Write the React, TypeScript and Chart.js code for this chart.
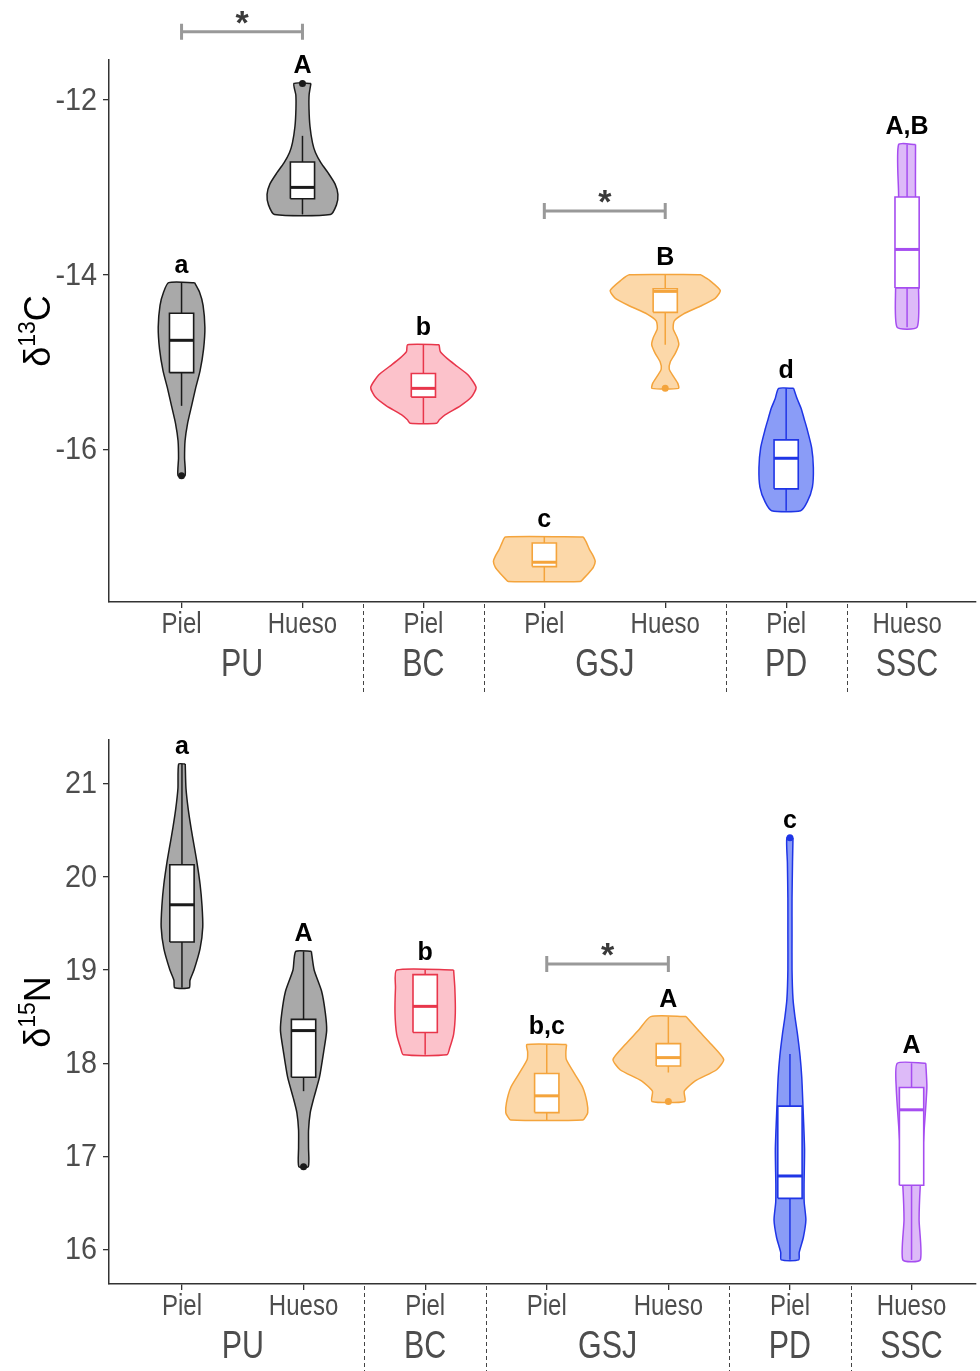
import React, { useEffect, useRef } from "react";
import { Chart, registerables } from "chart.js";

Chart.register(...registerables);

// ---------- categories ----------
const positions = [1, 2, 3, 4, 5, 6, 7];
const tissueLabels = ["Piel", "Hueso", "Piel", "Piel", "Hueso", "Piel", "Hueso"];
const siteLabels = ["PU", "BC", "GSJ", "PD", "SSC"];
const siteFirstPos = [1, 3, 4, 6, 7];
const siteLastPos = [2, 3, 5, 6, 7];

const outlineColors = ["#1a1a1a", "#1a1a1a", "#E8364B", "#F4A43C", "#F4A43C", "#1F35E6", "#A64DF0"];
const fillColors = ["#A9A9A9", "#A9A9A9", "#FCC2CB", "#FCD8A9", "#FCD8A9", "#8A9CF7", "#DDBAF8"];

// ---------- δ13C ----------
const carbonTicks = [-12, -14, -16];
const carbonRange = [-17.745, -11.542];
const carbonLetters = ["a", "A", "b", "c", "B", "d", "A,B"];
// violin outline: values and half widths (category units)
const carbonViolinValues = [
  [-14.09, -14.2, -14.35, -14.6, -14.85, -15.1, -15.3, -15.5, -15.7, -15.9, -16.1, -16.3],
  [-11.81, -11.94, -12.1, -12.3, -12.49, -12.6, -12.72, -12.84, -12.96, -13.08, -13.2, -13.31],
  [-14.8, -14.88, -14.96, -15.05, -15.15, -15.29, -15.4, -15.5, -15.6, -15.66, -15.7],
  [-17.0, -17.06, -17.14, -17.22, -17.28, -17.35, -17.42, -17.48, -17.51],
  [-14.0, -14.06, -14.18, -14.27, -14.36, -14.45, -14.53, -14.62, -14.72, -14.8, -14.9, -15.0, -15.08, -15.16, -15.24, -15.3],
  [-15.3, -15.42, -15.53, -15.65, -15.76, -15.98, -16.21, -16.43, -16.6, -16.7],
  [-12.51, -13.11, -13.6, -14.15, -14.6],
];
const carbonViolinWidths = [
  [0.107, 0.149, 0.178, 0.193, 0.182, 0.153, 0.116, 0.083, 0.05, 0.029, 0.025, 0.029],
  [0.07, 0.055, 0.054, 0.062, 0.083, 0.107, 0.153, 0.215, 0.269, 0.293, 0.281, 0.231],
  [0.13, 0.14, 0.198, 0.281, 0.372, 0.436, 0.397, 0.306, 0.182, 0.132, 0.11],
  [0.322, 0.347, 0.372, 0.405, 0.421, 0.405, 0.364, 0.322, 0.298],
  [0.296, 0.364, 0.455, 0.413, 0.289, 0.149, 0.074, 0.066, 0.099, 0.112, 0.083, 0.041, 0.033, 0.066, 0.103, 0.11],
  [0.062, 0.091, 0.124, 0.149, 0.172, 0.211, 0.225, 0.217, 0.174, 0.12],
  [0.07, 0.07, 0.087, 0.095, 0.083],
];
// lower whisker, Q1, median, Q3, upper whisker
const carbonBoxStats = [
  [-15.5, -15.12, -14.75, -14.44, -14.09],
  [-13.31, -13.13, -13.0, -12.71, -12.41],
  [-15.7, -15.4, -15.3, -15.13, -14.8],
  [-17.51, -17.34, -17.29, -17.07, -17.0],
  [-14.8, -14.43, -14.19, -14.16, -14.0],
  [-16.7, -16.45, -16.1, -15.89, -15.3],
  [-14.6, -14.15, -13.71, -13.11, -12.51],
];
const carbonOutliers = [[-16.3], [-11.81], [], [], [-15.3], [], []];
// [from position, to position, value]
const carbonBrackets = [
  [1, 2, -11.22],
  [4, 5, -13.27],
];

// ---------- δ15N ----------
const nitrogenTicks = [16, 17, 18, 19, 20, 21];
const nitrogenRange = [15.631, 21.468];
const nitrogenLetters = ["a", "A", "b", "b,c", "A", "c", "A"];
const nitrogenViolinValues = [
  [21.21, 20.95, 20.72, 20.53, 20.34, 20.15, 19.92, 19.69, 19.46, 19.23, 19.0, 18.89, 18.81],
  [19.2, 19.0, 18.77, 18.54, 18.35, 18.12, 17.85, 17.62, 17.47, 17.28, 17.09, 16.89],
  [19.0, 18.81, 18.54, 18.31, 18.16, 18.09],
  [18.2, 18.12, 18.04, 17.89, 17.74, 17.58, 17.47, 17.43, 17.39],
  [18.5, 18.35, 18.2, 18.04, 17.93, 17.81, 17.7, 17.59],
  [20.42, 20.15, 19.77, 19.38, 19.0, 18.69, 18.5, 18.31, 18.08, 17.85, 17.54, 17.08, 16.7, 16.51, 16.32, 16.13, 15.97, 15.89],
  [18.0, 17.74, 17.2, 16.69, 16.32, 15.89],
];
const nitrogenViolinWidths = [
  [0.027, 0.033, 0.052, 0.074, 0.099, 0.124, 0.149, 0.165, 0.171, 0.149, 0.099, 0.066, 0.06],
  [0.064, 0.087, 0.149, 0.179, 0.19, 0.165, 0.131, 0.083, 0.055, 0.041, 0.041, 0.039],
  [0.234, 0.244, 0.248, 0.234, 0.201, 0.179],
  [0.163, 0.157, 0.161, 0.227, 0.296, 0.331, 0.337, 0.322, 0.296],
  [0.145, 0.248, 0.355, 0.455, 0.397, 0.221, 0.131, 0.135],
  [0.025, 0.021, 0.017, 0.017, 0.017, 0.025, 0.041, 0.062, 0.083, 0.097, 0.107, 0.12, 0.116, 0.117, 0.131, 0.11, 0.076, 0.072],
  [0.117, 0.126, 0.099, 0.072, 0.062, 0.072],
];
const nitrogenBoxStats = [
  [18.81, 19.3, 19.7, 20.13, 21.21],
  [17.7, 17.85, 18.35, 18.47, 19.2],
  [18.09, 18.33, 18.61, 18.95, 19.0],
  [17.39, 17.47, 17.65, 17.89, 18.2],
  [17.9, 17.97, 18.06, 18.21, 18.5],
  [15.89, 16.55, 16.79, 17.54, 18.1],
  [15.89, 16.69, 17.5, 17.74, 18.0],
];
const nitrogenOutliers = [[], [16.89], [], [], [17.59], [20.42], []];
const nitrogenBrackets = [[4, 5, 19.064]];

// ---------- drawing ----------
const FONT = '"Liberation Sans", Arial, Helvetica, sans-serif';
const BOX_HALF = 0.1;

type Panel = {
  isotope: string;
  element: string;
  ticks: number[];
  range: number[];
  xMax: number;
  values: number[][];
  widths: number[][];
  box: number[][];
  outliers: number[][];
  letters: string[];
  brackets: number[][];
  height: number;
  padTop: number;
  axisGap: number;
};

const carbonPanel: Panel = {
  isotope: "13",
  element: "C",
  ticks: carbonTicks,
  range: carbonRange,
  xMax: 7.57,
  values: carbonViolinValues,
  widths: carbonViolinWidths,
  box: carbonBoxStats,
  outliers: carbonOutliers,
  letters: carbonLetters,
  brackets: carbonBrackets,
  height: 700,
  padTop: 60,
  axisGap: 98,
};

const nitrogenPanel: Panel = {
  isotope: "15",
  element: "N",
  ticks: nitrogenTicks,
  range: nitrogenRange,
  xMax: 7.53,
  values: nitrogenViolinValues,
  widths: nitrogenViolinWidths,
  box: nitrogenBoxStats,
  outliers: nitrogenOutliers,
  letters: nitrogenLetters,
  brackets: nitrogenBrackets,
  height: 671,
  padTop: 40,
  axisGap: 87,
};

function buildDatasets(p: Panel) {
  const ds: any[] = [];
  positions.forEach((pos, i) => {
    const vals = p.values[i];
    const w = p.widths[i];
    const color = outlineColors[i];
    const right = vals.map((v, k) => ({ x: pos + w[k], y: v }));
    const left = vals.map((v, k) => ({ x: pos - w[k], y: v })).reverse();
    ds.push({
      data: [...right, ...left, right[0]],
      borderColor: color,
      backgroundColor: fillColors[i],
      borderWidth: 1.5,
      fill: "shape",
      pointRadius: 0,
      tension: 0.2,
      borderJoinStyle: "round",
      order: 5,
    });
    const [lo, q1, med, q3, hi] = p.box[i];
    ds.push({
      data: [
        { x: pos, y: lo },
        { x: pos, y: hi },
      ],
      borderColor: color,
      borderWidth: 1.5,
      fill: false,
      pointRadius: 0,
      order: 4,
    });
    ds.push({
      data: [
        { x: pos - BOX_HALF, y: q1 },
        { x: pos + BOX_HALF, y: q1 },
        { x: pos + BOX_HALF, y: q3 },
        { x: pos - BOX_HALF, y: q3 },
        { x: pos - BOX_HALF, y: q1 },
      ],
      borderColor: color,
      backgroundColor: "#ffffff",
      borderWidth: 1.6,
      fill: "shape",
      pointRadius: 0,
      order: 3,
    });
    ds.push({
      data: [
        { x: pos - BOX_HALF, y: med },
        { x: pos + BOX_HALF, y: med },
      ],
      borderColor: color,
      borderWidth: 3,
      fill: false,
      pointRadius: 0,
      order: 2,
    });
    if (p.outliers[i].length) {
      ds.push({
        data: p.outliers[i].map((v) => ({ x: pos, y: v })),
        showLine: false,
        pointRadius: 3.5,
        pointBackgroundColor: color,
        pointBorderColor: color,
        pointBorderWidth: 0,
        order: 1,
      });
    }
  });
  return ds;
}

function condensedText(ctx: CanvasRenderingContext2D, text: string, cx: number, cy: number, sx: number) {
  ctx.save();
  ctx.translate(cx, cy);
  ctx.scale(sx, 1);
  ctx.fillText(text, 0, 0);
  ctx.restore();
}

function annotationPlugin(p: Panel) {
  return {
    id: "panelAnnotations",
    afterDraw(chart: any) {
      const { ctx, chartArea } = chart;
      const xs = chart.scales.x;
      const ys = chart.scales.y;
      ctx.save();

      // group letters above each violin
      ctx.font = `bold 25px ${FONT}`;
      ctx.fillStyle = "#000";
      ctx.textAlign = "center";
      ctx.textBaseline = "middle";
      positions.forEach((pos, i) => {
        const top = Math.max(...p.values[i], ...p.outliers[i], p.box[i][4]);
        ctx.fillText(p.letters[i], xs.getPixelForValue(pos), ys.getPixelForValue(top) - 17);
      });

      // significance brackets
      p.brackets.forEach(([a, b, v]) => {
        const x1 = xs.getPixelForValue(a);
        const x2 = xs.getPixelForValue(b);
        const yy = ys.getPixelForValue(v);
        ctx.strokeStyle = "#999999";
        ctx.lineWidth = 3;
        ctx.beginPath();
        ctx.moveTo(x1, yy);
        ctx.lineTo(x2, yy);
        ctx.moveTo(x1, yy - 8);
        ctx.lineTo(x1, yy + 8);
        ctx.moveTo(x2, yy - 8);
        ctx.lineTo(x2, yy + 8);
        ctx.stroke();
        ctx.fillStyle = "#3a3a3a";
        ctx.font = `bold 34px ${FONT}`;
        ctx.textBaseline = "alphabetic";
        ctx.fillText("*", (x1 + x2) / 2, yy + 2);
      });

      // y-axis tick labels
      ctx.fillStyle = "#4D4D4D";
      ctx.textAlign = "right";
      ctx.textBaseline = "middle";
      ctx.font = `32px ${FONT}`;
      p.ticks.forEach((t) => {
        condensedText(ctx, String(t), chartArea.left - 12, ys.getPixelForValue(t) + 1, 0.9);
      });

      // x-axis: tissue labels, site labels and separators
      const axisY = chartArea.bottom;
      ctx.textAlign = "center";
      ctx.font = `30px ${FONT}`;
      positions.forEach((pos, i) => {
        condensedText(ctx, tissueLabels[i], xs.getPixelForValue(pos), axisY + 23, 0.8);
      });
      ctx.font = `38px ${FONT}`;
      siteLabels.forEach((s, k) => {
        const cx = (xs.getPixelForValue(siteFirstPos[k]) + xs.getPixelForValue(siteLastPos[k])) / 2;
        condensedText(ctx, s, cx, axisY + 64, 0.8);
      });
      ctx.strokeStyle = "#444";
      ctx.lineWidth = 1;
      ctx.setLineDash([4, 3]);
      siteLastPos.slice(0, -1).forEach((lp) => {
        const sx = Math.round(xs.getPixelForValue(lp + 0.5)) + 0.5;
        ctx.beginPath();
        ctx.moveTo(sx, axisY + 2);
        ctx.lineTo(sx, axisY + 90);
        ctx.stroke();
      });
      ctx.setLineDash([]);

      // y-axis title: δ with superscript mass number
      const midY = (chartArea.top + chartArea.bottom) / 2;
      ctx.translate(50, midY);
      ctx.rotate(-Math.PI / 2);
      ctx.fillStyle = "#000";
      ctx.textAlign = "left";
      ctx.textBaseline = "alphabetic";
      const big = `36px ${FONT}`;
      const small = `23px ${FONT}`;
      ctx.font = big;
      const wd = ctx.measureText("\u03b4").width;
      const we = ctx.measureText(p.element).width;
      ctx.font = small;
      const ws = ctx.measureText(p.isotope).width;
      let tx = -(wd + ws + we) / 2;
      ctx.font = big;
      ctx.fillText("\u03b4", tx, 0);
      tx += wd;
      ctx.font = small;
      ctx.fillText(p.isotope, tx, -15);
      tx += ws;
      ctx.font = big;
      ctx.fillText(p.element, tx, 0);

      ctx.restore();
    },
  };
}

function ViolinPanel({ panel }: { panel: Panel }) {
  const ref = useRef<HTMLCanvasElement | null>(null);
  useEffect(() => {
    if (!ref.current) return;
    const axisLine = { display: true, color: "#333333", width: 1.5 };
    const tickMarks = { display: true, drawOnChartArea: false, drawTicks: true, tickLength: 6, color: "#333333", lineWidth: 1.3 };
    const chart = new Chart(ref.current, {
      type: "line",
      data: { datasets: buildDatasets(panel) },
      options: {
        responsive: false,
        animation: false,
        devicePixelRatio: 1,
        events: [],
        layout: { padding: { top: panel.padTop, left: 0, right: 0, bottom: 0 } },
        plugins: { legend: { display: false }, tooltip: { enabled: false } },
        scales: {
          x: {
            type: "linear",
            min: 0.4,
            max: panel.xMax,
            afterBuildTicks: (s: any) => {
              s.ticks = positions.map((v) => ({ value: v }));
            },
            afterFit: (s: any) => {
              s.height = panel.axisGap;
            },
            ticks: { display: false },
            grid: tickMarks,
            border: axisLine,
          },
          y: {
            type: "linear",
            min: panel.range[0],
            max: panel.range[1],
            afterBuildTicks: (s: any) => {
              s.ticks = panel.ticks.map((v) => ({ value: v }));
            },
            afterFit: (s: any) => {
              s.width = 109;
            },
            ticks: { display: false },
            grid: tickMarks,
            border: axisLine,
          },
        },
      } as any,
      plugins: [annotationPlugin(panel)],
    });
    return () => chart.destroy();
  }, [panel]);
  return <canvas ref={ref} width={980} height={panel.height} style={{ display: "block", width: 980, height: panel.height }} />;
}

export default function App() {
  return (
    <div style={{ position: "absolute", top: 0, left: 0, width: 980, height: 1371, background: "#ffffff" }}>
      <ViolinPanel panel={carbonPanel} />
      <ViolinPanel panel={nitrogenPanel} />
    </div>
  );
}
